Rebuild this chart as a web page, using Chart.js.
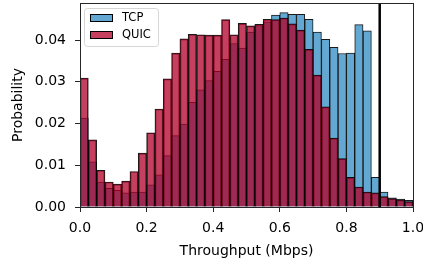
<!DOCTYPE html>
<html><head><meta charset="utf-8">
<script src="https://cdn.jsdelivr.net/npm/chart.js@4/dist/chart.umd.min.js"></script>
<style>html,body{margin:0;padding:0;background:#fff}#wrap{width:423px;height:262px}</style>
</head><body><div id="wrap"><canvas id="c" width="423" height="262"></canvas></div>
<script>
// Histogram bin centres (bin width 0.025 Mbps)
const binCenters = [0.0125,0.0375,0.0625,0.0875,0.1125,0.1375,0.1625,0.1875,0.2125,0.2375,
  0.2625,0.2875,0.3125,0.3375,0.3625,0.3875,0.4125,0.4375,0.4625,0.4875,
  0.5125,0.5375,0.5625,0.5875,0.6125,0.6375,0.6625,0.6875,0.7125,0.7375,
  0.7625,0.7875,0.8125,0.8375,0.8625,0.8875,0.9125,0.9375,0.9625,0.9875];
const tcpValues = [0.0213,0.0108,0.0060,0.0045,0.0040,0.0034,0.0036,0.0036,0.0053,0.0077,
  0.0123,0.0171,0.0199,0.0251,0.0281,0.0303,0.0325,0.0354,0.0392,0.0381,
  0.0419,0.0435,0.0444,0.0460,0.0466,0.0462,0.0462,0.0450,0.0419,0.0402,
  0.0383,0.0368,0.0369,0.0437,0.0422,0.0071,0.0036,0.0022,0.0019,0.0016];
const quicValues = [0.0309,0.0161,0.0088,0.0060,0.0055,0.0062,0.0085,0.0129,0.0178,0.0235,
  0.0307,0.0369,0.0403,0.0414,0.0413,0.0412,0.0412,0.0449,0.0413,0.0440,
  0.0434,0.0438,0.0450,0.0449,0.0453,0.0439,0.0424,0.0378,0.0316,0.0240,
  0.0165,0.0116,0.0071,0.0048,0.0036,0.0034,0.0025,0.0020,0.0017,0.0013];
const seriesLabels = ['TCP', 'QUIC'];
const xTicks = [0.0, 0.2, 0.4, 0.6, 0.8, 1.0];
const yTicks = [0.00, 0.01, 0.02, 0.03, 0.04];
const markerLine = 0.9;

const FONT = 'DejaVu Sans';
const TCP_COLOR = 'rgb(98,168,211)';
const QUIC_COLOR = 'rgba(176,0,40,0.75)';
const SPINE = '#262626';

const toPts = vals => vals.map((v, i) => ({x: binCenters[i], y: v}));
const zeroPad = s => { s.paddingTop = 0; s.paddingBottom = 0; s.paddingLeft = 0; s.paddingRight = 0; };

const overlay = {
  id: 'overlay',
  afterDatasetsDraw(chart) {
    const {ctx, chartArea: a, scales} = chart;
    ctx.save();
    const xp = scales.x.getPixelForValue(markerLine);
    ctx.strokeStyle = '#000';
    ctx.lineWidth = 2.5;
    ctx.beginPath(); ctx.moveTo(xp, a.top); ctx.lineTo(xp, a.bottom); ctx.stroke();
    ctx.strokeStyle = SPINE; ctx.lineWidth = 1;
    ctx.strokeRect(Math.round(a.left) + 0.5, Math.round(a.top) + 0.5,
      Math.round(a.right - a.left), Math.round(a.bottom - a.top));
    ctx.restore();
  },
  afterDraw(chart) {
    const {ctx, chartArea: a} = chart;
    ctx.save();
    const bx = a.left + 4, by = a.top + 5, bw = 74, bh = 38;
    ctx.fillStyle = 'rgba(255,255,255,0.8)';
    ctx.strokeStyle = '#d6d6d6'; ctx.lineWidth = 1;
    ctx.beginPath();
    ctx.roundRect(bx + 0.5, by + 0.5, bw, bh, 3);
    ctx.fill(); ctx.stroke();
    const colors = [TCP_COLOR, QUIC_COLOR];
    ctx.font = '11.5px "' + FONT + '"';
    ctx.textBaseline = 'middle';
    seriesLabels.forEach((lab, i) => {
      const sy = by + 6 + i * 17;
      ctx.fillStyle = '#fff';
      ctx.fillRect(bx + 6, sy, 23, 8);
      ctx.fillStyle = colors[i];
      ctx.fillRect(bx + 6, sy, 23, 8);
      ctx.strokeStyle = '#000';
      ctx.strokeRect(bx + 6.5, sy + 0.5, 22, 7);
      ctx.fillStyle = '#000';
      ctx.fillText(lab, bx + 38, sy + 4.5);
    });
    ctx.restore();
  }
};

new Chart(document.getElementById('c'), {
  type: 'bar',
  data: {
    datasets: [
      {label: seriesLabels[0], data: toPts(tcpValues), backgroundColor: TCP_COLOR,
       borderColor: 'rgba(0,0,0,0.9)', borderWidth: 1, order: 2},
      {label: seriesLabels[1], data: toPts(quicValues), backgroundColor: QUIC_COLOR,
       borderColor: 'rgba(0,0,0,0.9)', borderWidth: 1, order: 1}
    ]
  },
  options: {
    responsive: false,
    devicePixelRatio: 1,
    animation: false,
    layout: {autoPadding: false, padding: {top: 3, right: 10, left: 0, bottom: 0}},
    datasets: {bar: {barPercentage: 1, categoryPercentage: 1, grouped: false}},
    plugins: {legend: {display: false}, tooltip: {enabled: false}},
    scales: {
      x: {
        type: 'linear', min: 0, max: 1, offset: false,
        afterBuildTicks: s => { s.ticks = xTicks.map(v => ({value: v})); },
        afterFit: s => { s.height = 55; zeroPad(s); },
        ticks: {callback: v => Number(v).toFixed(1), color: '#000', font: {family: FONT, size: 14}, padding: 8, maxRotation: 0},
        grid: {offset: false, drawOnChartArea: false, drawTicks: true, tickLength: 5, color: SPINE},
        border: {color: SPINE, width: 1},
        title: {display: true, text: 'Throughput (Mbps)', color: '#000', font: {family: FONT, size: 14}, padding: {top: 0, bottom: 2}}
      },
      y: {
        min: 0, max: 0.0489,
        afterBuildTicks: s => { s.ticks = yTicks.map(v => ({value: v})); },
        afterFit: s => { s.width = 80; zeroPad(s); },
        ticks: {callback: v => Number(v).toFixed(2), color: '#000', font: {family: FONT, size: 14}, padding: 9},
        grid: {offset: false, drawOnChartArea: false, drawTicks: true, tickLength: 5, color: SPINE},
        border: {color: SPINE, width: 1},
        title: {display: true, text: 'Probability', color: '#000', font: {family: FONT, size: 14}, padding: {top: 10, bottom: 0}}
      }
    }
  },
  plugins: [overlay]
});
</script></body></html>
